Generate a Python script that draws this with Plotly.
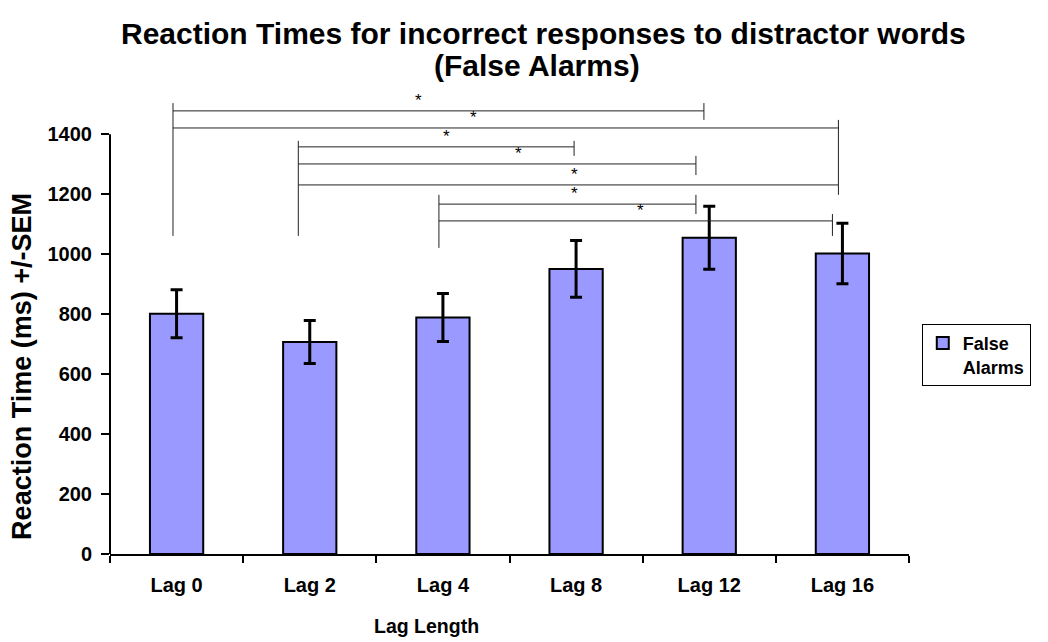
import plotly.graph_objects as go

categories = ["Lag 0", "Lag 2", "Lag 4", "Lag 8", "Lag 12", "Lag 16"]
rt_means = [801, 707, 789, 951, 1055, 1002]
rt_sem = [80, 72, 80, 95, 105, 101]
y_ticks = [0, 200, 400, 600, 800, 1000, 1200, 1400]

# significance brackets: (start index pos, end index pos, y level, right tick top, right tick bottom)
brackets = [
    (-0.027, 3.96, 1478, 1504, 1448),
    (-0.027, 4.97, 1421, 1448, 1198),
    (0.914, 2.985, 1358, 1378, 1328),
    (0.914, 3.90, 1301, 1328, 1264),
    (0.914, 4.97, 1231, 1231, 1231),
    (1.97, 3.90, 1167, 1198, 1134),
    (1.97, 4.925, 1111, 1134, 1061),
]
star_x = [1.82, 2.23, 2.03, 2.57, 2.99, 2.99, 3.48]
# left posts: (x index pos, top, bottom)
posts = [(-0.027, 1504, 1061), (0.914, 1378, 1061), (1.97, 1198, 1021)]

FONT = "Liberation Sans, Arial, sans-serif"

fig = go.Figure()
fig.add_trace(go.Bar(
    x=categories, y=rt_means, name="<b>False<br>Alarms</b>",
    width=0.4,
    marker=dict(color="#9999FF", line=dict(color="black", width=2)),
    error_y=dict(type="data", array=rt_sem, visible=True, color="black", thickness=3, width=6),
))

shapes = []
# y axis line (only up to the top tick)
shapes.append(dict(type="line", xref="paper", yref="y", x0=0, x1=0, y0=0, y1=y_ticks[-1],
                   line=dict(color="black", width=2)))
for (x0, x1, y, t, b) in brackets:
    shapes.append(dict(type="line", xref="x", yref="y", x0=x0, x1=x1, y0=y, y1=y,
                       line=dict(color="#222", width=1)))
    if t != b:
        shapes.append(dict(type="line", xref="x", yref="y", x0=x1, x1=x1, y0=b, y1=t,
                           line=dict(color="#222", width=1)))
for (x, t, b) in posts:
    shapes.append(dict(type="line", xref="x", yref="y", x0=x, x1=x, y0=b, y1=t,
                       line=dict(color="#222", width=1)))

annotations = []
for sx, (x0, x1, y, t, b) in zip(star_x, brackets):
    annotations.append(dict(x=sx, y=y, xref="x", yref="y", text="*", showarrow=False,
                            yanchor="bottom", yshift=-1,
                            font=dict(family=FONT, size=17, color="black")))
# two-line title
annotations.append(dict(x=0.543, y=1.099, xref="paper", yref="paper", showarrow=False,
                        xanchor="center", yanchor="middle",
                        text="<b>Reaction Times for incorrect responses to distractor words</b>",
                        font=dict(family=FONT, size=30, color="black")))
annotations.append(dict(x=0.535, y=1.030, xref="paper", yref="paper", showarrow=False,
                        xanchor="center", yanchor="middle",
                        text="<b>(False Alarms)</b>",
                        font=dict(family=FONT, size=30, color="black")))
# axis titles
annotations.append(dict(x=-0.110, y=0.395, xref="paper", yref="paper", showarrow=False,
                        xanchor="center", yanchor="middle", textangle=-90,
                        text="<b>Reaction Time (ms) +/-SEM</b>",
                        font=dict(family=FONT, size=27, color="black")))
annotations.append(dict(x=0.3955, y=-0.152, xref="paper", yref="paper", showarrow=False,
                        xanchor="center", yanchor="middle",
                        text="<b>Lag Length</b>",
                        font=dict(family=FONT, size=19.5, color="black")))

fig.update_layout(
    width=1048, height=642,
    margin=dict(l=110, r=139, t=80, b=88),
    paper_bgcolor="white", plot_bgcolor="white",
    font=dict(family=FONT, color="black"),
    xaxis=dict(type="category", range=[-0.5, 5.5], showline=True, linecolor="black", linewidth=2,
               ticks="outside", tickson="boundaries", ticklen=7, tickwidth=2, tickcolor="black",
               showgrid=False, zeroline=False,
               tickvals=categories, ticktext=["<b>%s</b>" % c for c in categories],
               tickfont=dict(size=20), ticklabelstandoff=12),
    yaxis=dict(range=[0, 1581], tickvals=y_ticks,
               ticktext=["<b>%d</b>" % v for v in y_ticks],
               showline=False, ticks="outside", ticklen=8, tickwidth=2, tickcolor="black",
               showgrid=False, zeroline=False, tickfont=dict(size=20), ticklabelstandoff=5),
    showlegend=True,
    legend=dict(x=1.016, y=0.42, xanchor="left", yanchor="middle", bordercolor="black", borderwidth=1,
                font=dict(size=18), valign="top", bgcolor="white", entrywidth=88),
    shapes=shapes, annotations=annotations,
)
fig.write_html("out.html")
